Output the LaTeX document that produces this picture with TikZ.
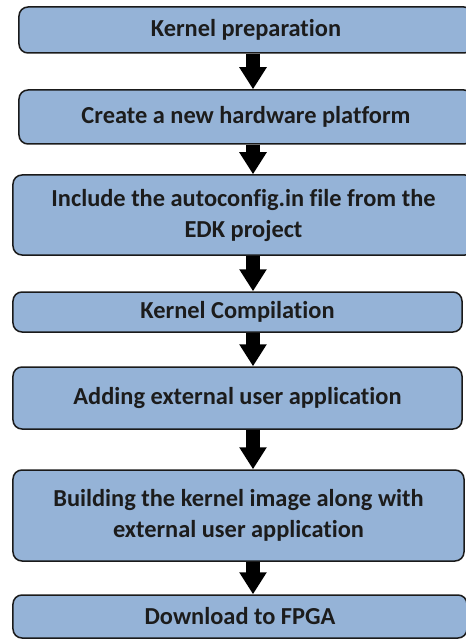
\documentclass[tikz,border=0pt]{standalone}
\usepackage{fontspec}
\setmainfont{Carlito}[Ligatures=NoCommon]
\usetikzlibrary{arrows.meta}
\definecolor{boxfill}{HTML}{95B3D7}
\definecolor{boxline}{HTML}{1A1A1A}
\definecolor{txt}{HTML}{1C1C1C}
\tikzset{
  stepbox/.style={draw=boxline, line width=1.5bp, fill=boxfill, rounded corners=9bp,
    inner sep=0pt, align=center, text=txt,
    font=\fontsize{24.4bp}{31bp}\selectfont\bfseries},
  blockarrow/.style={draw=black, line width=14bp,
    -{Triangle[width=26bp,length=22bp]}}
}
\begin{document}
\begin{tikzpicture}[x=1bp,y=-1bp]
\useasboundingbox (0,0) rectangle (466,639);
\clip (0,0) rectangle (466,639);
\node[stepbox, minimum width=454bp, minimum height=46bp] (n1) at (246,30) {Kernel preparation};
\node[stepbox, minimum width=454bp, minimum height=54bp] (n2) at (246,117) {Create a new hardware platform};
\node[stepbox, minimum width=461bp, minimum height=80bp] (n3) at (243.5,215) {Include the autoconfig.in file from the\\EDK project};
\node[stepbox, minimum width=449bp, minimum height=40bp] (n4) at (237.5,312) {Kernel Compilation};
\node[stepbox, minimum width=449bp, minimum height=62bp] (n5) at (237.5,398) {Adding external user application};
\node[stepbox, minimum width=451bp, minimum height=91bp] (n6) at (238.5,515.5) {Building the kernel image along with\\external user application};
\node[stepbox, minimum width=454bp, minimum height=43bp] (n7) at (240,616.5) {Download to FPGA};
\coordinate (ax) at (253,0);
\foreach \a/\b in {n1/n2,n2/n3,n3/n4,n4/n5,n5/n6,n6/n7}
  \draw[blockarrow] (\a.south -| ax) -- (\b.north -| ax);
\end{tikzpicture}
\end{document}
